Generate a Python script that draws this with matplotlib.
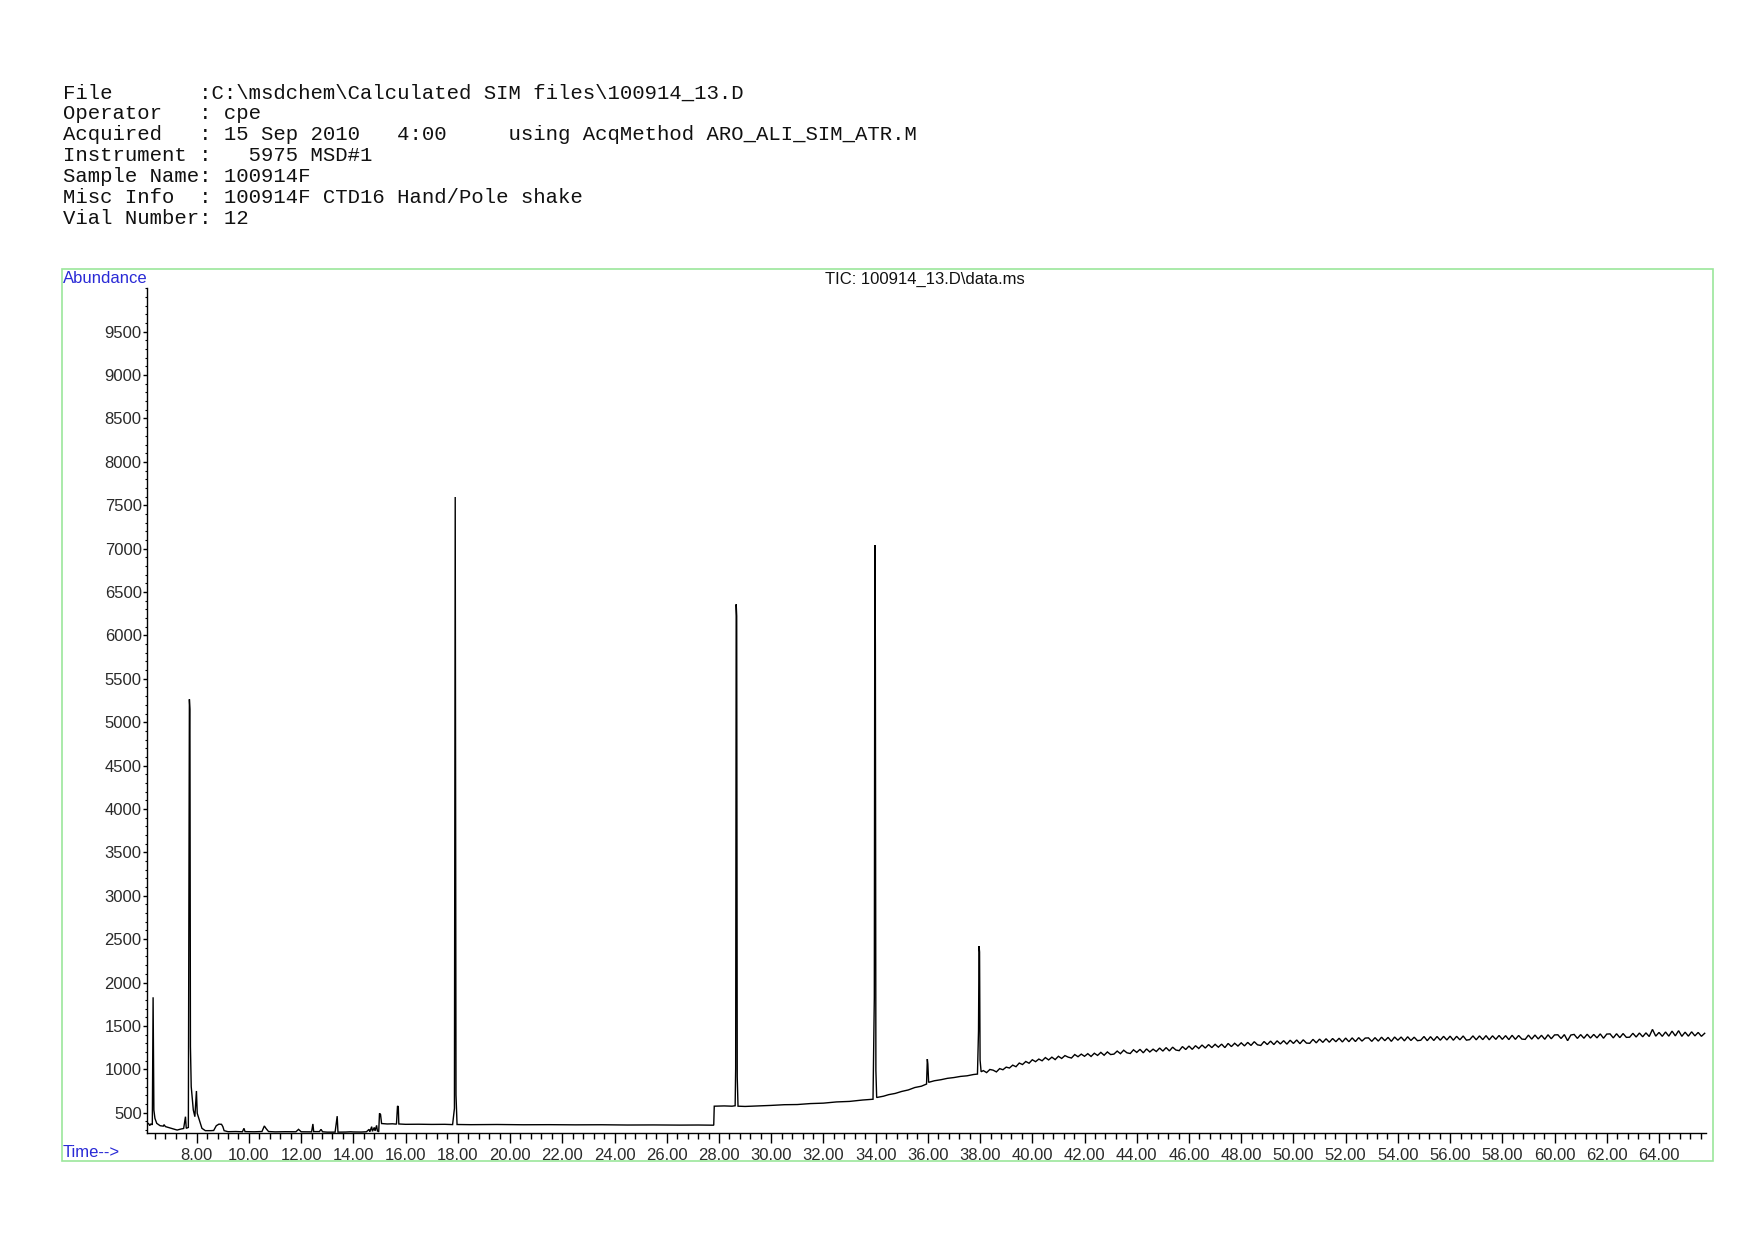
import matplotlib
matplotlib.use("Agg")
import matplotlib.pyplot as plt
from matplotlib.ticker import MultipleLocator, FixedLocator, FormatStrFormatter
from matplotlib.patches import Rectangle

# ---------------- data ----------------
header_lines = [
    r"File       :C:\msdchem\Calculated SIM files\100914_13.D",
    r"Operator   : cpe",
    r"Acquired   : 15 Sep 2010   4:00     using AcqMethod ARO_ALI_SIM_ATR.M",
    r"Instrument :   5975 MSD#1",
    r"Sample Name: 100914F",
    r"Misc Info  : 100914F CTD16 Hand/Pole shake",
    r"Vial Number: 12",
]
plot_title = r"TIC: 100914_13.D\data.ms"
y_label = "Abundance"
x_label = "Time-->"

# TIC trace vertices (time in min, abundance)
trace_time = [
    6.10, 6.15, 6.20, 6.25, 6.30, 6.33, 6.345, 6.36, 6.40, 6.47, 6.60, 6.72, 6.75, 6.80,
    7.00, 7.25, 7.40, 7.50, 7.57, 7.60, 7.68, 7.72, 7.74, 7.76, 7.79, 7.87, 7.93, 7.99,
    8.02, 8.10, 8.20, 8.33, 8.55, 8.65, 8.75, 8.85, 8.95, 9.00, 9.05, 9.20, 9.50, 9.75,
    9.81, 9.85, 10.20, 10.50, 10.59, 10.65, 10.75, 11.00, 11.40, 11.80, 11.90, 12.00,
    12.40, 12.45, 12.48, 12.70, 12.76, 12.82, 13.00, 13.30, 13.38, 13.41, 13.70, 13.90,
    14.00, 14.30, 14.50, 14.60, 14.63, 14.70, 14.73, 14.80, 14.83, 14.89, 14.92, 14.97,
    15.00, 15.04, 15.08, 15.30, 15.50, 15.65, 15.69, 15.72, 15.74, 16.00, 16.50, 17.00,
    17.50, 17.80, 17.87, 17.90, 17.93, 17.97, 18.50, 19.50, 20.50, 21.50, 22.50, 23.50,
    24.50, 25.50, 26.50, 27.20, 27.80, 27.82, 28.20, 28.50, 28.62, 28.64, 28.66, 28.68,
    28.70, 28.73, 29.00, 29.50, 30.00, 30.50, 31.00, 31.50, 32.00, 32.50, 33.00, 33.50,
    33.90, 33.95, 33.97, 33.99, 34.01, 34.04, 34.30, 34.50, 34.75, 35.00, 35.25, 35.50,
    35.75, 35.95, 35.98, 36.00, 36.03, 36.25, 36.50, 36.75, 37.00, 37.25, 37.50, 37.75,
    37.90, 37.94, 37.96, 37.98, 38.00, 38.04,
]
trace_abundance = [
    370, 378, 352, 372, 360, 1830, 1200, 530, 435, 377, 350, 345, 362, 340,
    322, 300, 312, 318, 454, 320, 330, 5264, 5150, 1260, 800, 531, 454, 750,
    493, 416, 320, 293, 293, 295, 350, 368, 366, 340, 293, 281, 283, 280,
    320, 282, 280, 283, 347, 320, 283, 279, 281, 280, 308, 280,
    279, 370, 282, 282, 308, 280, 276, 276, 460, 276, 277, 280,
    278, 277, 280, 308, 280, 339, 285, 330, 290, 354, 290, 280,
    492, 480, 375, 370, 372, 368, 577, 570, 370, 366, 367, 365,
    366, 363, 550, 7595, 704, 364, 362, 364, 361, 362, 360, 361,
    358, 359, 357, 358, 356, 575, 578, 575, 580, 1009, 6359, 6222,
    914, 575, 572, 578, 584, 592, 594, 605, 610, 624, 630, 646,
    655, 1822, 7041, 5882, 986, 675, 690, 708, 722, 745, 762, 790,
    805, 830, 1118, 1061, 850, 868, 880, 896, 905, 918, 925, 940,
    945, 1441, 2419, 2352, 1107, 972,
]

# noisy late baseline (38 - 65.8 min)
noise_time = [
    38.125, 38.25, 38.375, 38.5, 38.625, 38.75, 38.875, 39.0,
    39.125, 39.25, 39.375, 39.5, 39.625, 39.75, 39.875, 40.0,
    40.125, 40.25, 40.375, 40.5, 40.625, 40.75, 40.875, 41.0,
    41.125, 41.25, 41.375, 41.5, 41.625, 41.75, 41.875, 42.0,
    42.125, 42.25, 42.375, 42.5, 42.625, 42.75, 42.875, 43.0,
    43.125, 43.25, 43.375, 43.5, 43.625, 43.75, 43.875, 44.0,
    44.125, 44.25, 44.375, 44.5, 44.625, 44.75, 44.875, 45.0,
    45.125, 45.25, 45.375, 45.5, 45.625, 45.75, 45.875, 46.0,
    46.125, 46.25, 46.375, 46.5, 46.625, 46.75, 46.875, 47.0,
    47.125, 47.25, 47.375, 47.5, 47.625, 47.75, 47.875, 48.0,
    48.125, 48.25, 48.375, 48.5, 48.625, 48.75, 48.875, 49.0,
    49.125, 49.25, 49.375, 49.5, 49.625, 49.75, 49.875, 50.0,
    50.125, 50.25, 50.375, 50.5, 50.625, 50.75, 50.875, 51.0,
    51.125, 51.25, 51.375, 51.5, 51.625, 51.75, 51.875, 52.0,
    52.125, 52.25, 52.375, 52.5, 52.625, 52.75, 52.875, 53.0,
    53.125, 53.25, 53.375, 53.5, 53.625, 53.75, 53.875, 54.0,
    54.125, 54.25, 54.375, 54.5, 54.625, 54.75, 54.875, 55.0,
    55.125, 55.25, 55.375, 55.5, 55.625, 55.75, 55.875, 56.0,
    56.125, 56.25, 56.375, 56.5, 56.625, 56.75, 56.875, 57.0,
    57.125, 57.25, 57.375, 57.5, 57.625, 57.75, 57.875, 58.0,
    58.125, 58.25, 58.375, 58.5, 58.625, 58.75, 58.875, 59.0,
    59.125, 59.25, 59.375, 59.5, 59.625, 59.75, 59.875, 60.0,
    60.125, 60.25, 60.375, 60.5, 60.625, 60.75, 60.875, 61.0,
    61.125, 61.25, 61.375, 61.5, 61.625, 61.75, 61.875, 62.0,
    62.125, 62.25, 62.375, 62.5, 62.625, 62.75, 62.875, 63.0,
    63.125, 63.25, 63.375, 63.5, 63.625, 63.75, 63.875, 64.0,
    64.125, 64.25, 64.375, 64.5, 64.625, 64.75, 64.875, 65.0,
    65.125, 65.25, 65.375, 65.5, 65.625, 65.75,
]
noise_abundance = [
    985, 962, 998, 990, 970, 1008, 995, 1025,
    1015, 1048, 1030, 1072, 1055, 1090, 1070, 1110,
    1088, 1118, 1098, 1135, 1108, 1140, 1112, 1150,
    1125, 1158, 1140, 1130, 1170, 1145, 1175, 1150,
    1180, 1148, 1185, 1160, 1195, 1162, 1200, 1170,
    1175, 1210, 1180, 1220, 1190, 1182, 1225, 1195,
    1230, 1190, 1235, 1200, 1232, 1205, 1245, 1210,
    1250, 1212, 1255, 1222, 1215, 1262, 1228, 1268,
    1230, 1272, 1240, 1280, 1245, 1285, 1250, 1288,
    1255, 1290, 1250, 1298, 1262, 1300, 1268, 1305,
    1270, 1310, 1275, 1318, 1282, 1275, 1320, 1285,
    1325, 1285, 1328, 1292, 1330, 1290, 1335, 1298,
    1338, 1295, 1340, 1302, 1300, 1345, 1305, 1348,
    1310, 1352, 1312, 1355, 1318, 1358, 1315, 1360,
    1318, 1362, 1320, 1365, 1325, 1360, 1362, 1322,
    1365, 1325, 1370, 1330, 1368, 1322, 1372, 1335,
    1372, 1328, 1375, 1332, 1370, 1330, 1335, 1378,
    1330, 1376, 1332, 1378, 1335, 1380, 1338, 1382,
    1335, 1380, 1340, 1384, 1336, 1342, 1385, 1340,
    1385, 1342, 1388, 1340, 1386, 1345, 1390, 1345,
    1388, 1342, 1392, 1345, 1390, 1348, 1345, 1394,
    1348, 1395, 1350, 1392, 1346, 1398, 1352, 1396,
    1398, 1355, 1400, 1330, 1395, 1402, 1356, 1400,
    1358, 1404, 1360, 1402, 1362, 1408, 1358, 1406,
    1408, 1362, 1410, 1365, 1412, 1368, 1370, 1415,
    1372, 1418, 1375, 1420, 1378, 1460, 1382, 1425,
    1380, 1430, 1382, 1440, 1385, 1445, 1380, 1428,
    1382, 1432, 1385, 1425, 1380, 1415,
]

x_major_ticks = [8, 10, 12, 14, 16, 18, 20, 22, 24, 26, 28, 30, 32, 34, 36, 38, 40,
                 42, 44, 46, 48, 50, 52, 54, 56, 58, 60, 62, 64]
y_major_ticks = [500, 1000, 1500, 2000, 2500, 3000, 3500, 4000, 4500, 5000, 5500,
                 6000, 6500, 7000, 7500, 8000, 8500, 9000, 9500]

# ---------------- layout ----------------
W, H = 1754, 1240
fig = plt.figure(figsize=(W / 100, H / 100), dpi=100)
fig.patch.set_facecolor("white")


def fx(px):
    return px / W


def fy(py):
    return 1 - py / H


for i, line in enumerate(header_lines):
    fig.text(fx(62.6), fy(92.8 + i * 20.9), line, family="Liberation Mono",
             fontsize=14.9, va="center", ha="left", color="#111111")

frame = Rectangle((fx(61.5), fy(1161)), fx(1712.6) - fx(61.5), fy(268.5) - fy(1161),
                  transform=fig.transFigure, fill=False, edgecolor="#9be69b", lw=1.2)
fig.add_artist(frame)

fig.text(fx(63), fy(278.5), y_label, family="Liberation Sans", fontsize=12,
         color="#2a2ad6", va="center", ha="left")
fig.text(fx(63), fy(1152.5), x_label, family="Liberation Sans", fontsize=12,
         color="#2a2ad6", va="center", ha="left")
fig.text(fx(925), fy(279), plot_title, family="Liberation Sans", fontsize=12,
         color="#111111", va="center", ha="center")

ax = fig.add_axes([fx(147.3), fy(1133), fx(1706) - fx(147.3), fy(288.3) - fy(1133)])
ax.plot(trace_time + noise_time, trace_abundance + noise_abundance,
        color="black", lw=1.0, solid_joinstyle="miter")

ax.set_xlim(6.108, 65.8)
ax.set_ylim(266, 10000)

for s in ("top", "right"):
    ax.spines[s].set_visible(False)
for s in ("left", "bottom"):
    ax.spines[s].set_color("black")
    ax.spines[s].set_linewidth(1.0)

ax.xaxis.set_major_locator(FixedLocator(x_major_ticks))
ax.xaxis.set_minor_locator(MultipleLocator(0.4))
ax.xaxis.set_major_formatter(FormatStrFormatter("%.2f"))
ax.yaxis.set_major_locator(FixedLocator(y_major_ticks))
ax.yaxis.set_minor_locator(MultipleLocator(100))
ax.yaxis.set_major_formatter(FormatStrFormatter("%d"))

ax.tick_params(axis="x", which="major", direction="out", length=7, width=1.0,
               pad=4, labelsize=12, labelcolor="#2a2a2a", color="black")
ax.tick_params(axis="x", which="minor", direction="out", length=4.5, width=1.0,
               color="black")
ax.tick_params(axis="y", which="major", direction="out", length=3, width=1.0,
               pad=1, labelsize=12, labelcolor="#2a2a2a", color="black")
ax.tick_params(axis="y", which="minor", direction="out", length=1.5, width=0.8,
               color="black")
for lab in ax.get_xticklabels() + ax.get_yticklabels():
    lab.set_fontfamily("Liberation Sans")

fig.savefig("out.png", dpi=100, facecolor="white")
